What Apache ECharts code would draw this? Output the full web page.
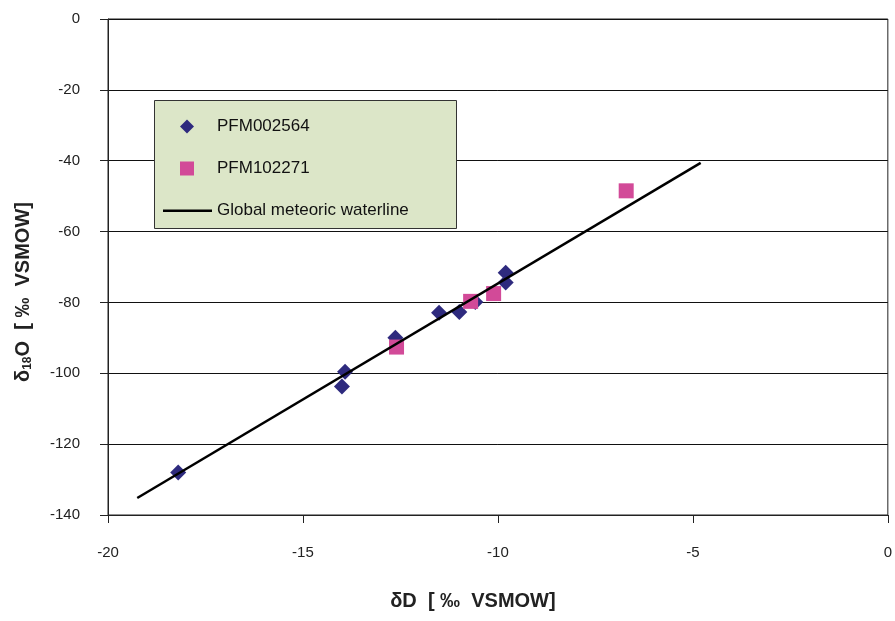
<!DOCTYPE html>
<html>
<head>
<meta charset="utf-8">
<script src="https://cdn.jsdelivr.net/npm/echarts@6/dist/echarts.min.js"></script>
<style>html,body{margin:0;padding:0;background:#fff;}#c{width:895px;height:621px;}</style>
</head>
<body>
<div id="c"></div>
<script>
const seriesNames = ['PFM002564', 'PFM102271', 'Global meteoric waterline'];
const pfm002564 = [[-18.2,-128.0],[-14.0,-103.7],[-13.92,-99.6],[-12.63,-90.0],[-11.51,-82.9],[-10.99,-82.7],[-10.58,-79.9],[-9.80,-71.6],[-9.80,-74.4]];
const pfm102271 = [[-12.6,-92.6],[-10.70,-79.7],[-10.11,-77.5],[-6.71,-48.5]];
const waterline = [[-19.25,-135.2],[-4.8,-40.6]];
const xTicks = {min:-20, max:0, interval:5};
const yTicks = {min:-140, max:0, interval:20};

const chart = echarts.init(document.getElementById('c'), null, {renderer:'canvas'});
const font = 'Arial, "Liberation Sans", sans-serif';
chart.setOption({
  backgroundColor:'#fff',
  animation:false,
  grid:{left:108, right:4, top:19, bottom:106, show:true, borderColor:'#222', borderWidth:1, backgroundColor:'transparent'},
  xAxis:{
    type:'value', min:xTicks.min, max:xTicks.max, interval:xTicks.interval,
    name:'δD  [ ‰  VSMOW]', nameLocation:'middle', nameGap:76,
    nameTextStyle:{fontFamily:font, fontWeight:'bold', fontSize:20, color:'#222', padding:[0,50,0,0]},
    axisLine:{onZero:false, lineStyle:{color:'#222', width:1}},
    axisTick:{show:true, inside:false, length:8, lineStyle:{color:'#222'}},
    axisLabel:{margin:30, fontFamily:font, fontSize:15, color:'#222'},
    splitLine:{show:false}
  },
  yAxis:{
    type:'value', min:yTicks.min, max:yTicks.max, interval:yTicks.interval,
    name:'{d|δ}{s|18}{d|O  [ ‰  VSMOW]}', nameLocation:'middle', nameGap:74, nameRotate:90,
    nameTextStyle:{fontFamily:font, fontWeight:'bold', fontSize:20, color:'#222', padding:[0,50,0,0],
      rich:{d:{fontFamily:font, fontWeight:'bold', fontSize:20, color:'#222'}, s:{fontFamily:font, fontSize:12, color:'#222', padding:[10,0,0,0]}}},
    axisLine:{onZero:false, lineStyle:{color:'#222', width:1}},
    axisTick:{show:true, inside:false, length:8, lineStyle:{color:'#222'}},
    axisLabel:{margin:28, fontFamily:font, fontSize:15, color:'#222'},
    splitLine:{show:true, lineStyle:{color:'#111', width:1}}
  },
  graphic:[{type:'rect', z:10, shape:{x:154.5, y:100.5, width:302, height:128}, style:{fill:'#DCE6C8', stroke:'#333', lineWidth:1}}],
  legend:{
    z:20, orient:'vertical', left:163, top:118, padding:0, itemGap:25,
    itemWidth:49, itemHeight:14,
    textStyle:{fontFamily:font, fontSize:17, color:'#111'},
    data:[
      {name:seriesNames[0], icon:'path://M0,0 M49,14 M24,0 L31,7 L24,14 L17,7 Z', itemStyle:{color:'#2E2A7E'}},
      {name:seriesNames[1], icon:'path://M0,0 M49,14 M17,0 L31,0 L31,14 L17,14 Z', itemStyle:{color:'#D24A98'}},
      {name:seriesNames[2], icon:'path://M0,0 M49,14 M0,6 L49,6 L49,8.5 L0,8.5 Z', itemStyle:{color:'#000'}}
    ]
  },
  series:[
    {name:seriesNames[0], type:'scatter', data:pfm002564, symbol:'diamond', symbolSize:16, itemStyle:{color:'#2E2A7E', opacity:1}, z:2},
    {name:seriesNames[1], type:'scatter', data:pfm102271, symbol:'rect', symbolSize:15, itemStyle:{color:'#D24A98', opacity:1}, z:3},
    {name:seriesNames[2], type:'line', data:waterline, symbol:'none', lineStyle:{color:'#000', width:2.5}, itemStyle:{color:'#000'}, z:4}
  ]
});
</script>
</body>
</html>
